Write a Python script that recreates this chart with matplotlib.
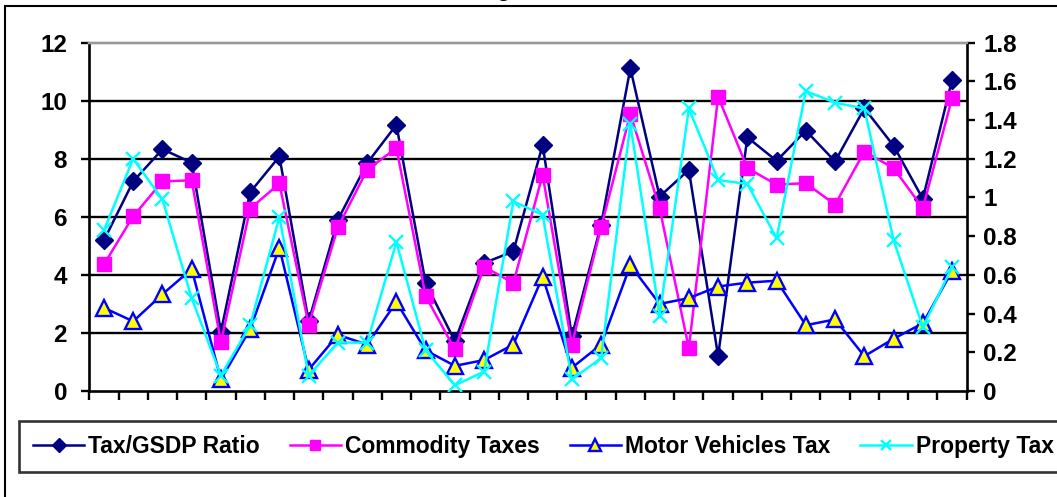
import numpy as np
import matplotlib
matplotlib.use("Agg")
import matplotlib.pyplot as plt
from matplotlib.patches import Rectangle

plt.rcParams['font.family'] = ['Liberation Sans', 'DejaVu Sans']
plt.rcParams['font.weight'] = 'bold'

# ---- data ----
series_names = ["Tax/GSDP Ratio", "Commodity Taxes", "Motor Vehicles Tax", "Property Tax"]

tax_gsdp = [5.19, 7.22, 8.33, 7.87, 2.04, 6.85, 8.08, 2.40, 5.90, 7.85,
            9.17, 3.72, 1.72, 4.41, 4.81, 8.48, 1.89, 5.73, 11.12, 6.70,
            7.62, 1.20, 8.74, 7.93, 8.97, 7.91, 9.74, 8.45, 6.62, 10.72]
commodity = [4.36, 6.02, 7.22, 7.26, 1.68, 6.28, 7.15, 2.28, 5.64, 7.62,
             8.37, 3.27, 1.43, 4.28, 3.72, 7.45, 1.60, 5.64, 9.55, 6.30,
             1.47, 10.14, 7.68, 7.11, 7.16, 6.42, 8.25, 7.68, 6.30, 10.09]
motor_vehicles = [0.43, 0.36, 0.50, 0.63, 0.06, 0.32, 0.74, 0.11, 0.29, 0.24,
                  0.46, 0.21, 0.13, 0.16, 0.24, 0.59, 0.12, 0.24, 0.65, 0.45,
                  0.48, 0.54, 0.56, 0.57, 0.34, 0.37, 0.18, 0.27, 0.35, 0.62]
property_tax = [0.83, 1.20, 0.99, 0.48, 0.08, 0.34, 0.90, 0.08, 0.25, 0.25,
                0.77, 0.21, 0.03, 0.10, 0.98, 0.91, 0.06, 0.17, 1.38, 0.39,
                1.46, 1.09, 1.07, 0.79, 1.55, 1.49, 1.46, 0.78, 0.33, 0.64]

left_ticks = [0, 2, 4, 6, 8, 10, 12]
right_ticks = [0, 0.2, 0.4, 0.6, 0.8, 1.0, 1.2, 1.4, 1.6, 1.8]
right_labels = ["0", "0.2", "0.4", "0.6", "0.8", "1", "1.2", "1.4", "1.6", "1.8"]

n = len(tax_gsdp)
x = np.arange(n) + 0.5

W, H = 1057, 497
fig = plt.figure(figsize=(W / 100, H / 100), dpi=100)

# outer chart-area border (extends past right/bottom edges)
fig.patches.append(Rectangle((5 / W, -0.2), 1.2, (H - 6) / H + 0.2, transform=fig.transFigure,
                             fill=False, edgecolor='black', linewidth=1.5))
# clipped title remnant
fig.text(503 / W, 1.0 + 4 / H, "g", ha='center', va='baseline', fontsize=16, fontweight='bold')

ax = fig.add_axes([89.3 / W, 1 - 391 / H, (966.7 - 89.3) / W, (391 - 42.7) / H])
ax2 = ax.twinx()

lw = 1.8
l1, = ax.plot(x, tax_gsdp, color='#000080', lw=lw, marker='D', ms=9, mfc='#000080', mec='#000080',
              label=series_names[0], zorder=3)
l2, = ax.plot(x, commodity, color='#FF00FF', lw=lw, marker='s', ms=10, mfc='#FF00FF', mec='#FF00FF',
              label=series_names[1], zorder=4)
l3, = ax2.plot(x, motor_vehicles, color='#0000FF', lw=lw, marker='^', ms=11, mfc='#FFFF00', mec='#0000FF',
               mew=1.7, label=series_names[2], zorder=3)
l4, = ax2.plot(x, property_tax, color='#00FFFF', lw=lw, marker='x', ms=10, mec='#00FFFF', mew=1.7,
               label=series_names[3], zorder=4)

ax.set_xlim(0, n)
ax.set_ylim(0, 12)
ax2.set_ylim(0, 1.8)

ax.set_yticks(left_ticks)
ax.set_yticklabels([str(t) for t in left_ticks])
ax2.set_yticks(right_ticks)
ax2.set_yticklabels(right_labels)
ax.set_xticks(np.arange(n + 1))
ax.set_xticklabels([])

for g in left_ticks[1:-1]:
    ax.axhline(g, color='black', lw=1.7, zorder=1)

for a in (ax, ax2):
    a.tick_params(axis='both', direction='out', length=6, width=1.7, labelsize=17.5)
    for s in a.spines.values():
        s.set_linewidth(1.9)
    a.spines['top'].set_color('#999999')
    a.spines['top'].set_linewidth(1.7)
ax.tick_params(axis='y', pad=10)
ax2.tick_params(axis='y', pad=6)
ax.tick_params(axis='x', length=6.5)
ax2.spines['left'].set_visible(False)
ax2.spines['bottom'].set_visible(False)
ax.spines['right'].set_visible(False)
for lab in ax.get_yticklabels() + ax2.get_yticklabels():
    lab.set_fontweight('bold')

leg = fig.legend(handles=[l1, l2, l3, l4], labels=series_names, ncol=4,
                 loc='center left', bbox_to_anchor=(19 / W, 1 - 446.5 / H),
                 prop={'weight': 'bold', 'size': 16.5},
                 frameon=True, fancybox=False, edgecolor='black',
                 handlelength=2.25, handletextpad=0.17, columnspacing=1.3,
                 borderpad=0.6, borderaxespad=0)
leg.get_frame().set_linewidth(1.9)
for h in leg.legend_handles:
    h.set_markersize(h.get_markersize() * 0.75)

fig.savefig("out.png", dpi=100)
